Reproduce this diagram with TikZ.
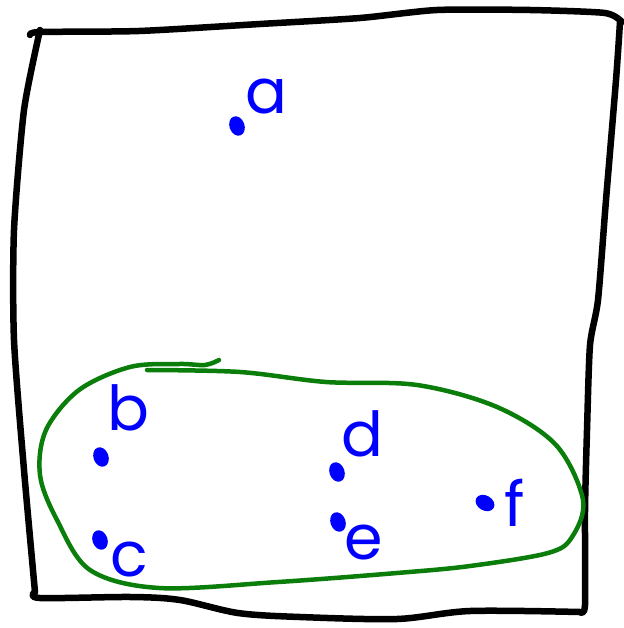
\documentclass[tikz,border=0pt]{standalone}
\usepackage{fontspec}
\usetikzlibrary{shapes.geometric}
\setmainfont{Poppins}
\definecolor{penblue}{RGB}{0,0,255}
\definecolor{pengreen}{RGB}{10,125,10}
\begin{document}
\begin{tikzpicture}[x=1pt,y=-1pt,
  boxline/.style={line width=6.5pt,line join=round,line cap=round,black},
  loopline/.style={line width=4.5pt,line join=round,line cap=round,pengreen},
  dot/.style={ellipse,fill=penblue,minimum width=15pt,minimum height=20pt,inner sep=0pt,rotate=20},
  lbl/.style={text=penblue,font=\fontsize{62}{62}\selectfont,inner sep=0pt}]
\useasboundingbox (0,0) rectangle (623,628);
% frame
\draw[boxline] plot[smooth,tension=0.4] coordinates {(30,35) (40,32) (139,31) (260,24) (360,18) (437,10) (530,10) (605,13) (622,22)};
\draw[boxline] plot[smooth,tension=0.4] coordinates {(620,22) (616,80) (606,200) (598,300) (590,345) (587,430) (585,510) (585,605) (580,612)};
\draw[boxline] plot[smooth,tension=0.5] coordinates {(580,612) (470,611) (397,619) (300,617) (238,613) (180,600) (131,597) (40,598) (35,592)};
\draw[boxline] plot[smooth,tension=0.4] coordinates {(35,592) (24,470) (14,340) (14,230) (24,110) (40,30)};
% green loop
\draw[loopline] plot[smooth,tension=0.55] coordinates {(147,370) (240,372) (326,382) (417,385) (497,407) (556,445) (583,500) (572,537) (548,553) (470,566) (397,573) (278,582) (159,588) (90,570) (57,520) (40,475) (46,430) (79,390) (130,367) (179,364) (205,365) (219,360)};
% points
\node[dot] (pa) at (237,126) {};
\node[dot] (pb) at (101,457) {};
\node[dot] (pc) at (100,540) {};
\node[dot] (pd) at (337,472) {};
\node[dot] (pe) at (338,522) {};
\node[dot,rotate=40] (pf) at (485,503) {};
\node[lbl] (la) at (266,97) {a};
\node[lbl] (lb) at (128,408) {b};
\node[lbl] (lc) at (129,560) {c};
\node[lbl] (ld) at (362,434) {d};
\node[lbl] (le) at (364,543) {e};
\node[lbl] (lf) at (515,503) {f};
\end{tikzpicture}
\end{document}
